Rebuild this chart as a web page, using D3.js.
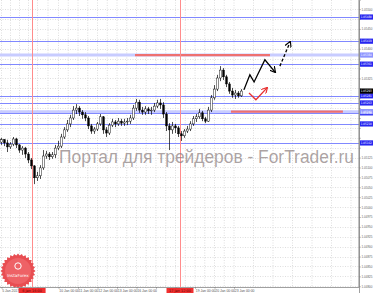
<!DOCTYPE html>
<html><head><meta charset="utf-8">
<script src="https://cdn.jsdelivr.net/npm/d3@7/dist/d3.min.js"></script>
<style>body{margin:0;background:#fff}svg{display:block}</style>
</head><body>
<script>
// ---- data (H4 candles, EURUSD-like) ----
const opens  = [1.05164,1.05170,1.05162,1.05152,1.05159,1.05172,1.05157,1.05144,1.05149,1.05134,1.05119,1.05104,1.05074,1.05079,1.05099,1.05129,1.05134,1.05127,1.05132,1.05149,1.05154,1.05177,1.05195,1.05210,1.05225,1.05245,1.05250,1.05240,1.05233,1.05225,1.05205,1.05192,1.05197,1.05210,1.05228,1.05195,1.05187,1.05207,1.05215,1.05210,1.05217,1.05212,1.05215,1.05217,1.05225,1.05250,1.05265,1.05245,1.05240,1.05248,1.05243,1.05245,1.05255,1.05263,1.05258,1.05235,1.05205,1.05195,1.05205,1.05200,1.05185,1.05180,1.05192,1.05197,1.05210,1.05223,1.05228,1.05238,1.05223,1.05217,1.05245,1.05276,1.05298,1.05326,1.05346,1.05329,1.05311,1.05293,1.05283,1.05288,1.05281];
const highs  = [1.05175,1.05172,1.05170,1.05164,1.05177,1.05175,1.05159,1.05154,1.05152,1.05139,1.05124,1.05106,1.05089,1.05106,1.05144,1.05142,1.05139,1.05139,1.05157,1.05167,1.05185,1.05202,1.05220,1.05233,1.05255,1.05260,1.05255,1.05245,1.05240,1.05230,1.05210,1.05202,1.05215,1.05235,1.05230,1.05202,1.05212,1.05223,1.05220,1.05225,1.05223,1.05223,1.05225,1.05233,1.05258,1.05273,1.05271,1.05253,1.05255,1.05253,1.05253,1.05263,1.05271,1.05273,1.05265,1.05240,1.05212,1.05215,1.05210,1.05205,1.05192,1.05197,1.05205,1.05217,1.05230,1.05235,1.05248,1.05243,1.05228,1.05253,1.05283,1.05308,1.05334,1.05356,1.05351,1.05334,1.05316,1.05301,1.05296,1.05293,1.05298];
const lows   = [1.05157,1.05154,1.05139,1.05147,1.05154,1.05149,1.05137,1.05132,1.05124,1.05111,1.05096,1.05058,1.05066,1.05071,1.05094,1.05122,1.05119,1.05122,1.05124,1.05144,1.05149,1.05172,1.05190,1.05202,1.05220,1.05235,1.05230,1.05223,1.05217,1.05197,1.05185,1.05185,1.05192,1.05205,1.05185,1.05177,1.05182,1.05202,1.05202,1.05205,1.05205,1.05205,1.05207,1.05210,1.05220,1.05243,1.05238,1.05233,1.05233,1.05235,1.05233,1.05240,1.05250,1.05248,1.05225,1.05192,1.05144,1.05185,1.05187,1.05177,1.05167,1.05175,1.05187,1.05192,1.05205,1.05215,1.05223,1.05217,1.05212,1.05215,1.05240,1.05271,1.05293,1.05318,1.05321,1.05303,1.05286,1.05276,1.05273,1.05276,1.05278];
const closes = [1.05170,1.05162,1.05152,1.05159,1.05172,1.05157,1.05144,1.05149,1.05134,1.05119,1.05104,1.05074,1.05079,1.05099,1.05129,1.05134,1.05127,1.05132,1.05149,1.05154,1.05177,1.05195,1.05210,1.05225,1.05245,1.05250,1.05240,1.05233,1.05225,1.05205,1.05192,1.05197,1.05210,1.05228,1.05195,1.05187,1.05207,1.05215,1.05210,1.05217,1.05212,1.05215,1.05217,1.05225,1.05250,1.05265,1.05245,1.05240,1.05248,1.05243,1.05245,1.05255,1.05263,1.05258,1.05235,1.05205,1.05195,1.05205,1.05200,1.05185,1.05180,1.05192,1.05197,1.05210,1.05223,1.05228,1.05238,1.05223,1.05217,1.05245,1.05276,1.05298,1.05326,1.05346,1.05329,1.05311,1.05293,1.05283,1.05288,1.05281,1.05293];

const priceTicks = [1.04800,1.04825,1.04850,1.04875,1.04900,1.04925,1.04950,1.04975,1.05000,1.05025,1.05050,1.05075,1.05100,1.05125,1.05150,1.05175,1.05200,1.05225,1.05250,1.05275,1.05300,1.05325,1.05350,1.05375,1.05400,1.05425,1.05450,1.05475,1.05500];
const timeTickIdx = [0,6,12,19,25.5,32,38.5,45,51.5,58,64.5,71,77.5];
const timeTickLabels = ["5 Jan 2017","6 Jan 00:00","9 Jan 00:00","10 Jan 00:00","11 Jan 00:00","12 Jan 00:00","13 Jan 00:00","16 Jan 00:00","17 Jan 00:00","18 Jan 00:00","19 Jan 00:00","20 Jan 00:00","23 Jan 00:00"];
const markerIdx = [10.2, 59.5];
const markerLabels = ["6 Jan 16:00","17 Jan 12:00"];

const levelPrices = [1.05480,1.05419,1.05361,1.05281,1.05263,1.05238,1.05210,1.05162];
const zonePrices  = [1.05384,1.05241];
const zoneRedFrom = [44.5, 76.5];
const zoneRedTo   = [89.5, 113.8];
const currentPrice = 1.05293;

const blackPathIdx   = [80.8, 82.8, 84.2, 87.8, 91.2];
const blackPathPrice = [1.05296,1.05334,1.05316,1.05372,1.05341];
const dashPathIdx    = [92.8, 96.2];
const dashPathPrice  = [1.05356,1.05417];
const redPathIdx     = [82.5, 84.8, 88.5];
const redPathPrice   = [1.05288,1.05271,1.05301];

// ---- layout ----
const W=374,H=293, plotR=359, plotB=287;
const x = d3.scaleLinear().domain([0,80]).range([1.5,241.5]);
const y = d3.scaleLinear().domain([1.05523,1.04783]).range([0,293]);

const svg = d3.select("body").append("svg").attr("width",W).attr("height",H)
  .style("font-family","DejaVu Sans, sans-serif");
const defs = svg.append("defs");
defs.append("clipPath").attr("id","clip").append("rect").attr("x",0).attr("y",0).attr("width",plotR).attr("height",plotB);
defs.append("marker").attr("id","ah").attr("viewBox","0 0 10 10").attr("refX",8).attr("refY",5)
  .attr("markerWidth",5).attr("markerHeight",5).attr("orient","auto")
  .append("path").attr("d","M0,0 L9,5 L0,10").attr("fill","none").attr("stroke","#000").attr("stroke-width",1.8);
defs.append("marker").attr("id","ahr").attr("viewBox","0 0 10 10").attr("refX",8).attr("refY",5)
  .attr("markerWidth",5).attr("markerHeight",5).attr("orient","auto")
  .append("path").attr("d","M0,0 L9,5 L0,10").attr("fill","none").attr("stroke","#e83030").attr("stroke-width",1.8);

const plot = svg.append("g").attr("clip-path","url(#clip)");

// grid
const gridV = [];
for (let i=0;i<timeTickIdx.length;i++){ gridV.push(timeTickIdx[i]); if(i<timeTickIdx.length-1) gridV.push((timeTickIdx[i]+timeTickIdx[i+1])/2); }
gridV.push(84, 90.5, 97, 103.5, 110, 116.5);
plot.append("g").selectAll("line").data(gridV).join("line")
  .attr("x1",d=>x(d)).attr("x2",d=>x(d)).attr("y1",0).attr("y2",plotB)
  .attr("stroke","#d6d6d6").attr("stroke-width",0.8).attr("stroke-dasharray","1,1.5");
plot.append("g").selectAll("line").data(priceTicks).join("line")
  .attr("x1",0).attr("x2",plotR).attr("y1",d=>Math.round(y(d))+0.5).attr("y2",d=>Math.round(y(d))+0.5)
  .attr("stroke","#d6d6d6").attr("stroke-width",0.8).attr("stroke-dasharray","1,1.5");

// zones (light bands)
plot.append("g").selectAll("line").data(zonePrices).join("line")
  .attr("x1",0).attr("x2",plotR).attr("y1",d=>y(d)).attr("y2",d=>y(d))
  .attr("stroke","#c8ccff").attr("stroke-width",3);
// levels
plot.append("g").selectAll("line").data(levelPrices).join("line")
  .attr("x1",0).attr("x2",plotR).attr("y1",d=>Math.round(y(d))+0.5).attr("y2",d=>Math.round(y(d))+0.5)
  .attr("stroke","#8088ff").attr("stroke-width",1);
// red segments
plot.append("g").selectAll("line").data(zonePrices).join("line")
  .attr("x1",(d,i)=>x(zoneRedFrom[i])).attr("x2",(d,i)=>x(zoneRedTo[i]))
  .attr("y1",d=>y(d)).attr("y2",d=>y(d))
  .attr("stroke","#ee7070").attr("stroke-width",2.2);
// vertical red markers
plot.append("g").selectAll("line").data(markerIdx).join("line")
  .attr("x1",d=>Math.round(x(d))+0.5).attr("x2",d=>Math.round(x(d))+0.5).attr("y1",0).attr("y2",plotB)
  .attr("stroke","#ff8c8c").attr("stroke-width",1);

// candles
const idx = d3.range(closes.length);
const cg = plot.append("g");
cg.selectAll("line").data(idx).join("line")
  .attr("x1",i=>x(i)).attr("x2",i=>x(i)).attr("y1",i=>y(highs[i])).attr("y2",i=>y(lows[i]))
  .attr("stroke","#000").attr("stroke-width",0.7);
cg.selectAll("rect").data(idx).join("rect")
  .attr("x",i=>x(i)-0.9).attr("width",1.8)
  .attr("y",i=>y(Math.max(opens[i],closes[i])))
  .attr("height",i=>Math.max(0.8,Math.abs(y(opens[i])-y(closes[i]))))
  .attr("fill",i=>closes[i]>=opens[i]?"#fff":"#000")
  .attr("stroke","#000").attr("stroke-width",0.45);

// watermark (semi-transparent over chart)
svg.append("text").attr("x",59).attr("y",163).attr("font-size",17.5)
  .attr("font-family","Liberation Sans, Arial, sans-serif").attr("fill","#8c8080").attr("fill-opacity",0.72)
  .attr("textLength",295).attr("lengthAdjust","spacingAndGlyphs")
  .text("Портал для трейдеров - ForTrader.ru");

// annotations
const line = d3.line().x(d=>x(d[0])).y(d=>y(d[1]));
plot.append("path").datum(blackPathIdx.map((d,i)=>[d,blackPathPrice[i]])).attr("d",line)
  .attr("fill","none").attr("stroke","#000").attr("stroke-width",1.3).attr("marker-end","url(#ah)");
plot.append("path").datum(dashPathIdx.map((d,i)=>[d,dashPathPrice[i]])).attr("d",line)
  .attr("fill","none").attr("stroke","#000").attr("stroke-width",1.3).attr("stroke-dasharray","3,2").attr("marker-end","url(#ah)");
plot.append("path").datum(redPathIdx.map((d,i)=>[d,redPathPrice[i]])).attr("d",line)
  .attr("fill","none").attr("stroke","#e83030").attr("stroke-width",1.3).attr("marker-end","url(#ahr)");

// logo
const lg = svg.append("g").attr("transform","translate(18,271)");
const star = d3.range(56).map(k=>{const a=k/56*2*Math.PI, r=(k%2?15.5:17.5); return [r*Math.sin(a), -r*Math.cos(a)];});
lg.append("path").attr("d",d3.line()(star)+"Z").attr("fill","#e84e52");
lg.append("circle").attr("r",13).attr("fill","#ee6266");
lg.append("circle").attr("cy",-5).attr("r",3.2).attr("fill","none").attr("stroke","#fff").attr("stroke-width",1);
lg.append("text").attr("y",6).attr("text-anchor","middle").attr("font-size",4.2).attr("fill","#fff").text("InstaForex");

// level boxes list
const allLevels = levelPrices.map(p=>({p,fill:"#2626f0"})).concat(zonePrices.map(p=>({p,fill:"#8c94ff"}))).concat([{p:currentPrice,fill:"#000"}]);
const nearBox = v => allLevels.some(l=>Math.abs(y(l.p)-y(v))<5.3);

// axes
const ay = svg.append("g").attr("transform",`translate(${plotR},0)`)
  .call(d3.axisRight(y).tickValues(priceTicks).tickFormat(d3.format(".5f")).tickSize(1.5).tickPadding(1));
ay.select(".domain").attr("stroke","#888").attr("stroke-width",0.8);
ay.selectAll(".tick text").attr("font-size",3.1).attr("fill","#666")
  .attr("textLength",11).attr("lengthAdjust","spacingAndGlyphs")
  .style("display",d=>nearBox(d)?"none":null);
ay.selectAll(".tick line").attr("stroke","#888");
ay.append("line").attr("x1",0).attr("x2",0).attr("y1",0).attr("y2",plotB).attr("stroke","#888");

const nearMarker = v => markerIdx.some(m=>{const a=x(v), b=a+17; return b>x(m)-13.5 && a<x(m)+13.5;});
const ax = svg.append("g").attr("transform",`translate(0,${plotB})`)
  .call(d3.axisBottom(x).tickValues(timeTickIdx).tickFormat((d,i)=>timeTickLabels[i]).tickSize(1.5).tickPadding(1));
ax.select(".domain").attr("d",`M0,0.5H${plotR}`).attr("stroke","#888").attr("stroke-width",0.8);
ax.selectAll(".tick text").attr("font-size",3.4).attr("fill","#555").attr("text-anchor","start").attr("dx",0.3)
  .style("display",d=>nearMarker(d)?"none":null);
ax.selectAll(".tick line").attr("stroke","#888");

// axis level boxes
const boxes = svg.append("g");
boxes.selectAll("rect").data(allLevels).join("rect")
  .attr("x",plotR+1).attr("y",d=>y(d.p)-2.6).attr("width",13).attr("height",5.2).attr("fill",d=>d.fill);
boxes.selectAll("text").data(allLevels).join("text")
  .attr("x",plotR+1.8).attr("y",d=>y(d.p)+1.3).attr("font-size",3.2).attr("fill","#fff")
  .attr("textLength",11).attr("lengthAdjust","spacingAndGlyphs")
  .text(d=>d3.format(".5f")(d.p));

// bottom red marker boxes
const mb = svg.append("g");
mb.selectAll("rect").data(markerIdx).join("rect")
  .attr("x",d=>x(d)-13.5).attr("y",plotB+1).attr("width",27).attr("height",5).attr("fill","#f03030");
mb.selectAll("text").data(markerIdx).join("text")
  .attr("x",d=>x(d)).attr("y",plotB+4.9).attr("text-anchor","middle").attr("font-size",3.5).attr("fill","#600")
  .text((d,i)=>markerLabels[i]);
</script>
</body></html>
